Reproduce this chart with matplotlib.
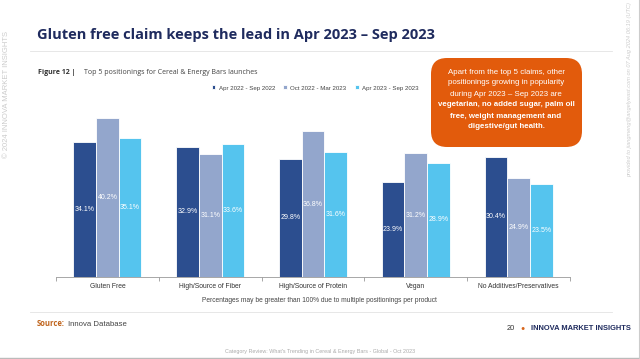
import matplotlib.pyplot as plt
import numpy as np
from matplotlib.patches import FancyBboxPatch
from matplotlib.lines import Line2D

# --- DATA ---
categories = ["Gluten Free", "High/Source of Fiber", "High/Source of Protein",
              "Vegan", "No Additives/Preservatives"]
periods = ["Apr 2022 - Sep 2022", "Oct 2022 - Mar 2023", "Apr 2023 - Sep 2023"]
apr22_sep22 = [34.1, 32.9, 29.8, 23.9, 30.4]
oct22_mar23 = [40.2, 31.1, 36.8, 31.2, 24.9]
apr23_sep23 = [35.1, 33.6, 31.6, 28.9, 23.5]

colors = ["#2C4E8F", "#93A6CC", "#55C4EE"]
navy = "#1F2B5E"
orange = "#E25B0C"
W, H = 640, 359

plt.rcParams['font.family'] = ['Liberation Sans', 'DejaVu Sans']

fig = plt.figure(figsize=(6.4, 3.59), dpi=100)
fig.patch.set_facecolor("white")

def fx(px):
    return px / W

def fy(py):
    return 1 - py / H

# --- AXES ---
base_px, ymax = 277, 44
top_px = base_px - ymax * 3.96
ax = fig.add_axes([fx(56), fy(base_px), fx(570) - fx(56), (base_px - top_px) / H])
x = np.arange(len(categories))
bw = 0.22
series = [apr22_sep22, oct22_mar23, apr23_sep23]
handles = []
for i, (vals, col) in enumerate(zip(series, colors)):
    pos = x + (i - 1) * bw
    b = ax.bar(pos, vals, width=bw, color=col, edgecolor="white", linewidth=0.6)
    handles.append(b)
    for p, v in zip(pos, vals):
        ax.text(p, v / 2, f"{v:.1f}%", ha="center", va="center",
                color="white", fontsize=5)

ax.set_xlim(-0.5, len(categories) - 0.5)
ax.set_ylim(0, ymax)
ax.set_yticks([])
ax.set_xticks(x)
ax.set_xticklabels(categories, fontsize=4.9, color="#333333")
ax.tick_params(axis="x", length=0, pad=4.5)
ax.set_xticks(np.arange(-0.5, len(categories)), minor=True)
ax.tick_params(axis="x", which="minor", length=3, color="#999999", width=0.6)
for s in ["top", "right", "left"]:
    ax.spines[s].set_visible(False)
ax.spines["bottom"].set_color("#999999")
ax.spines["bottom"].set_linewidth(0.6)

# legend
fig.legend([h[0] for h in handles], periods, loc="center",
           bbox_to_anchor=(fx(315), fy(88)), ncol=3, frameon=False,
           fontsize=4.4, handlelength=0.6, handleheight=0.6,
           columnspacing=1.4, handletextpad=0.5, labelcolor="#444444")

# --- TEXTS ---
fig.text(fx(37), fy(35), "Gluten free claim keeps the lead in Apr 2023 \u2013 Sep 2023",
         fontsize=10.5, fontweight="bold", color=navy, va="center",
         family=["Open Sans", "DejaVu Sans"])
fig.add_artist(Line2D([fx(30), fx(612)], [fy(51), fy(51)], color="#E3E3E3", lw=0.6))
fig.text(fx(38), fy(72), "Figure 12 |", fontsize=5, fontweight="bold",
         color="#333333", va="center", family=["Open Sans", "DejaVu Sans"])
fig.text(fx(84), fy(72), "Top 5 positionings for Cereal & Energy Bars launches",
         fontsize=5, color="#444444", va="center", family=["Open Sans", "DejaVu Sans"])

# orange callout
box = FancyBboxPatch((fx(431), fy(147)), fx(582) - fx(431), (147 - 58) / H,
                     boxstyle="round,pad=0,rounding_size=0.025",
                     transform=fig.transFigure, facecolor=orange, edgecolor="none",
                     mutation_aspect=W / H)
fig.add_artist(box)
lines = ["Apart from the top 5 claims, other",
         "positionings growing in popularity",
         "during Apr 2023 \u2013 Sep 2023 are",
         "vegetarian, no added sugar, palm oil",
         "free, weight management and",
         "digestive/gut health."]
for i, ln in enumerate(lines):
    fig.text(fx(506), fy(72 + i * 11), ln, ha="center", va="center",
             fontsize=5.7, color="white",
             fontweight="bold" if i >= 3 else "normal")

fig.text(fx(319), fy(300), "Percentages may be greater than 100% due to multiple positionings per product",
         ha="center", va="center", fontsize=4.8, color="#444444")
fig.add_artist(Line2D([fx(30), fx(612)], [fy(312), fy(312)], color="#E3E3E3", lw=0.6))
fig.text(fx(37), fy(324), "Source:", fontsize=5.5, color="#C0641C",
         fontweight="bold", va="center", family=["Open Sans", "DejaVu Sans"])
fig.text(fx(68), fy(324), "Innova Database", fontsize=5.6, color="#444444", va="center")
fig.text(fx(515), fy(328), "20", fontsize=5.4, color="#333333", va="center", ha="right")
fig.text(fx(523), fy(328), "\u25CF", fontsize=5, color="#D8661C", va="center", ha="center")
fig.text(fx(531), fy(328), "INNOVA MARKET INSIGHTS", fontsize=5.4, color=navy,
         fontweight="bold", va="center")
fig.text(fx(320), fy(351), "Category Review: What's Trending in Cereal & Energy Bars - Global - Oct 2023",
         ha="center", va="center", fontsize=3.9, color="#AAAAAA")
fig.add_artist(Line2D([0, 1], [fy(357.5), fy(357.5)], color="#BBBBBB", lw=1))
fig.add_artist(Line2D([fx(639), fx(639)], [0, 1], color="#CCCCCC", lw=0.8))

# watermarks
fig.text(fx(7), fy(95), "\u00A9 2024 INNOVA MARKET INSIGHTS", rotation=90,
         ha="center", va="center", fontsize=5.5, color="#CCCCCC")
fig.text(fx(630), fy(90),
         "provided to jiangmeng@angelyeast.com on 07 Aug 2024 06:19 (UTC)",
         rotation=90, ha="center", va="center", fontsize=4.1, color="#CCCCCC",
         style="italic")

fig.savefig("out.png", dpi=100, facecolor="white")
